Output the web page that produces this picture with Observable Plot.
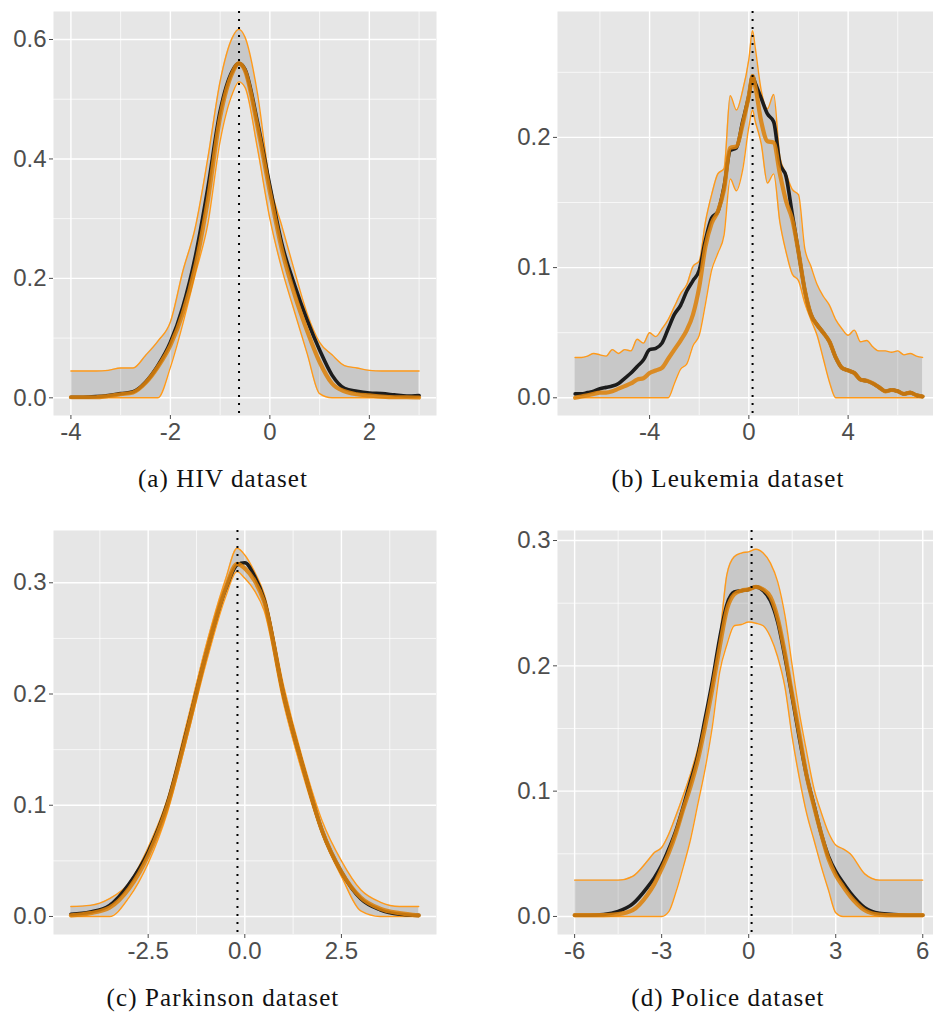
<!DOCTYPE html>
<html><head><meta charset="utf-8">
<script src="https://cdn.jsdelivr.net/npm/d3@7"></script>
<script src="https://cdn.jsdelivr.net/npm/@observablehq/plot@0.6"></script>
<style>
body{margin:0;background:#fff;}
#fig{position:relative;width:933px;height:1013px;overflow:hidden;background:#fff;}
.panel{position:absolute;}
.cap{position:absolute;font-family:"Liberation Serif","Times New Roman",serif;font-size:25px;line-height:25px;color:#111;white-space:nowrap;transform:translateX(-50%);letter-spacing:1.1px;}
</style></head><body><div id="fig"></div>
<script>
// ---------- (a) HIV ----------
const hivX     = [-4,-3.75,-3.5,-3.25,-3,-2.75,-2.5,-2.25,-2,-1.75,-1.5,-1.25,-1,-0.75,-0.625,-0.5,-0.25,0,0.25,0.5,0.75,1,1.25,1.5,1.75,2,2.25,2.5,2.75,3];
const hivUpper = [.045,.045,.045,.046,.050,.050,.071,.095,.127,.212,.285,.40,.53,.604,.617,.604,.51,.36,.285,.211,.141,.093,.072,.054,.050,.046,.045,.045,.045,.045];
const hivLower = [0,0,0,0,0,0,0,0,.051,.124,.207,.29,.43,.51,.529,.52,.418,.30,.213,.143,.074,.007,0,0,0,0,0,0,0,0];
const hivTruth = [.001,.001,.002,.004,.007,.010,.026,.054,.093,.152,.236,.35,.48,.548,.56,.55,.462,.355,.255,.188,.13,.08,.038,.016,.011,.008,.007,.005,.003,.004];
const hivEst   = [.001,.001,.001,.003,.006,.009,.025,.052,.088,.142,.22,.33,.47,.545,.56,.548,.455,.345,.245,.172,.112,.06,.024,.011,.006,.004,.002,.001,.001,.0005];

// ---------- (b) Leukemia ----------
const leukX     = [-7,-6.75,-6.5,-6.25,-6,-5.75,-5.5,-5.25,-5,-4.75,-4.5,-4.25,-4,-3.75,-3.5,-3.25,-3,-2.75,-2.5,-2.25,-2,-1.75,-1.5,-1.25,-1,-0.75,-0.5,-0.25,0,0.15,0.25,0.5,0.75,1,1.25,1.5,1.75,2,2.25,2.5,2.75,3,3.25,3.5,3.75,4,4.25,4.5,4.75,5,5.25,5.5,5.75,6,6.25,6.5,6.75,7];
const leukUpper = [.031,.031,.032,.034,.033,.032,.037,.034,.037,.036,.045,.042,.050,.047,.053,.060,.070,.080,.087,.101,.105,.135,.156,.172,.176,.232,.221,.236,.26,.282,.27,.236,.222,.233,.185,.172,.160,.156,.115,.101,.087,.078,.071,.060,.053,.048,.052,.043,.044,.039,.036,.036,.035,.036,.033,.034,.032,.031];
const leukLower = [0,0,0,0,0,0,0,0,0,0,0,0,0,0,0,0,.011,.022,.026,.040,.048,.072,.098,.111,.125,.168,.159,.175,.208,.221,.213,.195,.165,.172,.135,.112,.095,.090,.073,.060,.048,.030,.012,0,0,0,0,0,0,0,0,0,0,0,0,0,0,0];
const leukTruth = [.003,.003,.004,.005,.007,.008,.009,.011,.015,.019,.024,.029,.037,.038,.042,.053,.064,.071,.082,.090,.098,.121,.138,.143,.162,.19,.192,.212,.232,.247,.242,.230,.218,.212,.180,.170,.141,.112,.083,.064,.056,.050,.043,.031,.023,.021,.019,.014,.013,.011,.008,.005,.006,.005,.003,.004,.002,.001];
const leukEst   = [.000,.001,.002,.003,.004,.004,.005,.007,.009,.011,.014,.015,.019,.021,.023,.030,.037,.044,.052,.064,.085,.116,.134,.143,.160,.192,.193,.210,.232,.247,.240,.212,.197,.196,.172,.151,.137,.112,.083,.064,.056,.050,.043,.031,.023,.021,.019,.014,.013,.011,.008,.005,.006,.005,.003,.004,.002,.001];

// ---------- (c) Parkinson ----------
const parkX     = [-4.5,-4,-3.5,-3,-2.5,-2,-1.5,-1,-0.5,-0.2,0,0.25,0.5,1,1.5,2,2.5,3,3.5,4,4.5];
const parkUpper = [.009,.010,.016,.030,.062,.106,.174,.244,.303,.331,.325,.31,.290,.208,.141,.086,.050,.024,.013,.009,.009];
const parkLower = [0,0,0,.017,.048,.094,.160,.228,.287,.310,.304,.293,.275,.192,.128,.074,.036,.005,0,0,0];
const parkTruth = [.002,.004,.010,.029,.058,.102,.167,.236,.294,.316,.318,.306,.285,.200,.135,.077,.040,.016,.006,.002,.001];
const parkEst   = [.001,.003,.008,.025,.055,.100,.165,.236,.295,.317,.313,.302,.283,.200,.135,.077,.040,.017,.007,.003,.001];

// ---------- (d) Police ----------
const polX     = [-6,-5.5,-5,-4.5,-4,-3.5,-3.25,-3,-2.75,-2.5,-2.25,-2,-1.75,-1.5,-1.25,-1,-0.75,-0.5,-0.25,0,0.25,0.5,0.75,1,1.25,1.5,1.75,2,2.25,2.5,2.75,3,3.25,3.5,4,4.5,5,5.5,6];
const polUpper = [.029,.029,.029,.029,.032,.044,.051,.055,.066,.081,.097,.114,.134,.155,.183,.222,.273,.287,.29,.291,.293,.29,.282,.267,.240,.20,.162,.131,.102,.083,.067,.057,.054,.05,.034,.029,.029,.029,.029];
const polLower = [0,0,0,0,0,0,0,0,.004,.02,.04,.062,.09,.118,.152,.195,.217,.232,.233,.235,.234,.232,.223,.207,.183,.143,.11,.082,.061,.04,.021,.003,0,0,0,0,0,0,0];
const polTruth = [.001,.001,.0016,.004,.010,.023,.031,.041,.054,.069,.088,.108,.129,.158,.188,.222,.249,.259,.26,.261,.263,.26,.252,.235,.207,.175,.142,.112,.089,.066,.048,.036,.027,.019,.007,.0025,.0015,.001,.001];
const polEst   = [.001,.001,.001,.0018,.005,.017,.026,.038,.051,.067,.086,.104,.125,.152,.182,.215,.245,.257,.26,.261,.263,.261,.255,.238,.21,.177,.145,.112,.088,.066,.046,.033,.024,.016,.005,.0015,.001,.001,.001];

// reference (dotted) lines
const refLines = [-0.62, 0.15, -0.19, 0.10];

// tick values
const hivXTicks = [-4,-2,0,2],      hivXMinor = [-3,-1,1,3];
const hivYTicks = [0,0.2,0.4,0.6],  hivYMinor = [0.1,0.3,0.5];
const leukXTicks = [-4,0,4],        leukXMinor = [-6,-2,2,6];
const leukYTicks = [0,0.1,0.2],     leukYMinor = [0.05,0.15,0.25];
const parkXTicks = [-2.5,0,2.5],    parkXMinor = [-3.75,-1.25,1.25,3.75];
const parkYTicks = [0,0.1,0.2,0.3], parkYMinor = [0.05,0.15,0.25];
const polXTicks = [-6,-3,0,3,6],    polXMinor = [-4.5,-1.5,1.5,4.5];
const polYTicks = [0,0.1,0.2,0.3],  polYMinor = [0.05,0.15,0.25];

const captions = ["(a) HIV dataset","(b) Leukemia dataset","(c) Parkinson dataset","(d) Police dataset"];

// ---------- layout ----------
const panels = [
  {x:hivX,  up:hivUpper,  lo:hivLower,  tr:hivTruth,  es:hivEst,  v:refLines[0], xt:hivXTicks,  xm:hivXMinor,  yt:hivYTicks,  ym:hivYMinor,  xf:d=>String(d),
   left:0, top:0, w:466, h:500, ml:53, mr:30, mt:11, mb:85, xd:[-4.35,3.35], yd:[-0.0296,0.6469], cap:captions[0], cx:223, cy:466},
  {x:leukX, up:leukUpper, lo:leukLower, tr:leukTruth, es:leukEst, v:refLines[1], xt:leukXTicks, xm:leukXMinor, yt:leukYTicks, ym:leukYMinor, xf:d=>String(d),
   left:466, top:0, w:467, h:500, ml:91, mr:0, mt:11, mb:85, xd:[-7.71,7.44], yd:[-0.0136,0.2967], cap:captions[1], cx:728, cy:466},
  {x:parkX, up:parkUpper, lo:parkLower, tr:parkTruth, es:parkEst, v:refLines[2], xt:parkXTicks, xm:parkXMinor, yt:parkYTicks, ym:parkYMinor, xf:d=>d.toFixed(1),
   left:0, top:500, w:466, h:513, ml:53, mr:30, mt:30, mb:79, xd:[-4.95,4.96], yd:[-0.0162,0.347], cap:captions[2], cx:223, cy:985},
  {x:polX,  up:polUpper,  lo:polLower,  tr:polTruth,  es:polEst,  v:refLines[3], xt:polXTicks,  xm:polXMinor,  yt:polYTicks,  ym:polYMinor,  xf:d=>String(d),
   left:466, top:500, w:467, h:513, ml:91, mr:0, mt:30, mb:79, xd:[-6.59,6.37], yd:[-0.0144,0.308], cap:captions[3], cx:728, cy:985}
];

const fig = document.getElementById("fig");
const curve = "monotone-x";
const axisFont = "'Liberation Sans', Arial, sans-serif";
for (const p of panels) {
  const data = p.x.map((x,i)=>({x, upper:p.up[i], lower:p.lo[i], truth:p.tr[i], est:p.es[i]}));
  const chart = Plot.plot({
    width:p.w, height:p.h,
    marginLeft:p.ml, marginRight:p.mr, marginTop:p.mt, marginBottom:p.mb,
    x:{domain:p.xd, label:null},
    y:{domain:p.yd, label:null},
    style:{fontFamily:axisFont, fontSize:"24px", color:"#4d4d4d", background:"transparent", overflow:"visible"},
    marks:[
      Plot.frame({fill:"#e6e6e6", stroke:null}),
      Plot.gridX({ticks:p.xm, stroke:"#fff", strokeOpacity:1, strokeWidth:0.7}),
      Plot.gridY({ticks:p.ym, stroke:"#fff", strokeOpacity:1, strokeWidth:0.7}),
      Plot.gridX({ticks:p.xt, stroke:"#fff", strokeOpacity:1, strokeWidth:1.4}),
      Plot.gridY({ticks:p.yt, stroke:"#fff", strokeOpacity:1, strokeWidth:1.4}),
      Plot.areaY(data, {x:"x", y1:"lower", y2:"upper", fill:"#000", fillOpacity:0.13, curve}),
      Plot.lineY(data, {x:"x", y:"upper", stroke:"#ff9a1a", strokeWidth:1.4, curve}),
      Plot.lineY(data, {x:"x", y:"lower", stroke:"#ff9a1a", strokeWidth:1.4, curve}),
      Plot.lineY(data, {x:"x", y:"truth", stroke:"#1c1c1c", strokeWidth:3.6, curve}),
      Plot.lineY(data, {x:"x", y:"est", stroke:"#dc820c", strokeOpacity:0.88, strokeWidth:4.2, curve}),
      Plot.ruleX([p.v], {stroke:"#000", strokeWidth:2, strokeDasharray:"2,6"}),
      Plot.axisX({ticks:p.xt, tickFormat:p.xf, tickSize:4, tickPadding:3, label:null, color:"#4d4d4d", fontSize:24, fontFamily:axisFont}),
      Plot.axisY({ticks:p.yt, tickFormat:d=>d.toFixed(1), tickSize:4, tickPadding:3, label:null, color:"#4d4d4d", fontSize:24, fontFamily:axisFont})
    ]
  });
  chart.classList.add("panel");
  chart.style.left = p.left + "px";
  chart.style.top = p.top + "px";
  chart.style.position = "absolute";
  fig.appendChild(chart);
  const c = document.createElement("div");
  c.className = "cap";
  c.textContent = p.cap;
  c.style.left = p.cx + "px";
  c.style.top = p.cy + "px";
  fig.appendChild(c);
}
</script></body></html>
